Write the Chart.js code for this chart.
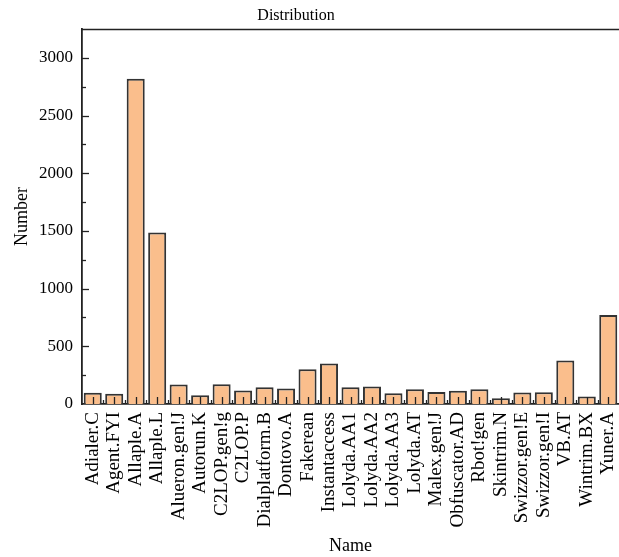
<!DOCTYPE html>
<html>
<head>
<meta charset="utf-8">
<script src="https://cdn.jsdelivr.net/npm/chart.js@4/dist/chart.umd.min.js"></script>
<style>
  html, body { margin: 0; padding: 0; background: #fff; }
  #wrap { width: 619px; height: 557px; }
</style>
</head>
<body>
<div id="wrap"><canvas id="c" width="619" height="557"></canvas></div>
<script>
const categories = ["Adialer.C", "Agent.FYI", "Allaple.A", "Allaple.L", "Alueron.gen!J", "Autorun.K",
  "C2LOP.gen!g", "C2LOP.P", "Dialplatform.B", "Dontovo.A", "Fakerean", "Instantaccess",
  "Lolyda.AA1", "Lolyda.AA2", "Lolyda.AA3", "Lolyda.AT", "Malex.gen!J", "Obfuscator.AD",
  "Rbot!gen", "Skintrim.N", "Swizzor.gen!E", "Swizzor.gen!I", "VB.AT", "Wintrim.BX", "Yuner.A"];
const counts = [97, 88, 2819, 1487, 168, 76, 171, 117, 145, 134, 301, 350,
  145, 151, 93, 128, 105, 114, 128, 50, 99, 102, 376, 65, 771];
const yTickLabels = [0, 500, 1000, 1500, 2000, 2500, 3000];
const chartTitle = "Distribution";
const xTitle = "Name";
const yTitle = "Number";

const FONT = "'Liberation Serif', 'Times New Roman', serif";
const AXIS = "#222222";

const ticksPlugin = {
  id: 'inwardTicks',
  afterDatasetsDraw(chart) {
    const ctx = chart.ctx;
    const a = chart.chartArea;
    const xs = chart.scales.x, ys = chart.scales.y;
    ctx.save();
    ctx.strokeStyle = AXIS;
    ctx.lineWidth = 1.3;
    ys.ticks.forEach(t => {
      const v = t.value;
      if (v <= 0 || v >= ys.max) return;
      const y = Math.round(ys.getPixelForValue(v)) + 0.5;
      const len = (v % 500 === 0) ? 7 : 4;
      ctx.beginPath();
      ctx.moveTo(a.left, y);
      ctx.lineTo(a.left + len, y);
      ctx.stroke();
    });
    for (let i = 0; i < categories.length; i++) {
      const x = Math.round(xs.getPixelForValue(i)) + 0.5;
      ctx.beginPath();
      ctx.moveTo(x, a.bottom);
      ctx.lineTo(x, a.bottom - 7);
      ctx.stroke();
      if (i > 0) {
        const xm = Math.round(xs.getPixelForValue(i - 0.5)) + 0.5;
        ctx.beginPath();
        ctx.moveTo(xm, a.bottom);
        ctx.lineTo(xm, a.bottom - 4);
        ctx.stroke();
      }
    }
    ctx.lineWidth = 1.5;
    ctx.beginPath();
    ctx.moveTo(a.left, a.top + 0.5);
    ctx.lineTo(a.right, a.top + 0.5);
    ctx.stroke();
    ctx.fillStyle = "#000";
    ctx.font = "16px " + FONT;
    ctx.textAlign = "center";
    ctx.textBaseline = "middle";
    ctx.fillText(chartTitle, 296, 16);
    ctx.restore();
  }
};

new Chart(document.getElementById('c'), {
  type: 'bar',
  data: {
    labels: categories,
    datasets: [{
      label: yTitle,
      data: counts,
      backgroundColor: '#FABE8C',
      borderColor: '#333333',
      borderWidth: 2,
      barPercentage: 0.84,
      categoryPercentage: 1.0
    }]
  },
  options: {
    responsive: false,
    animation: false,
    layout: { autoPadding: false, padding: { top: 29, left: 0, right: 0, bottom: 0 } },
    plugins: {
      legend: { display: false },
      title: { display: false },
      tooltip: { enabled: false }
    },
    scales: {
      x: {
        offset: true,
        grid: { display: false, drawTicks: false },
        border: { display: true, color: AXIS, width: 1.8 },
        ticks: {
          autoSkip: false,
          minRotation: 90,
          maxRotation: 90,
          padding: 8,
          color: '#000',
          font: { family: FONT, size: 19 }
        },
        title: {
          display: true,
          text: xTitle,
          color: '#000',
          font: { family: FONT, size: 18 },
          padding: { top: 0, bottom: 0 }
        },
        afterFit(scale) {
          scale.height = 153;
          scale.paddingLeft = 0;
          scale.paddingRight = 0;
        }
      },
      y: {
        min: 0,
        max: 3250,
        grid: { display: false, drawTicks: false },
        border: { display: true, color: AXIS, width: 1.8 },
        ticks: {
          stepSize: 250,
          padding: 9,
          color: '#000',
          font: { family: FONT, size: 17 },
          callback(v) { return yTickLabels.includes(v) ? String(v) : ''; }
        },
        title: {
          display: true,
          text: yTitle,
          color: '#000',
          font: { family: FONT, size: 18 },
          padding: { top: 11, bottom: 0 }
        },
        afterFit(scale) {
          scale.width = 82;
          scale.paddingTop = 0;
          scale.paddingBottom = 0;
        }
      }
    }
  },
  plugins: [ticksPlugin]
});
</script>
</body>
</html>
